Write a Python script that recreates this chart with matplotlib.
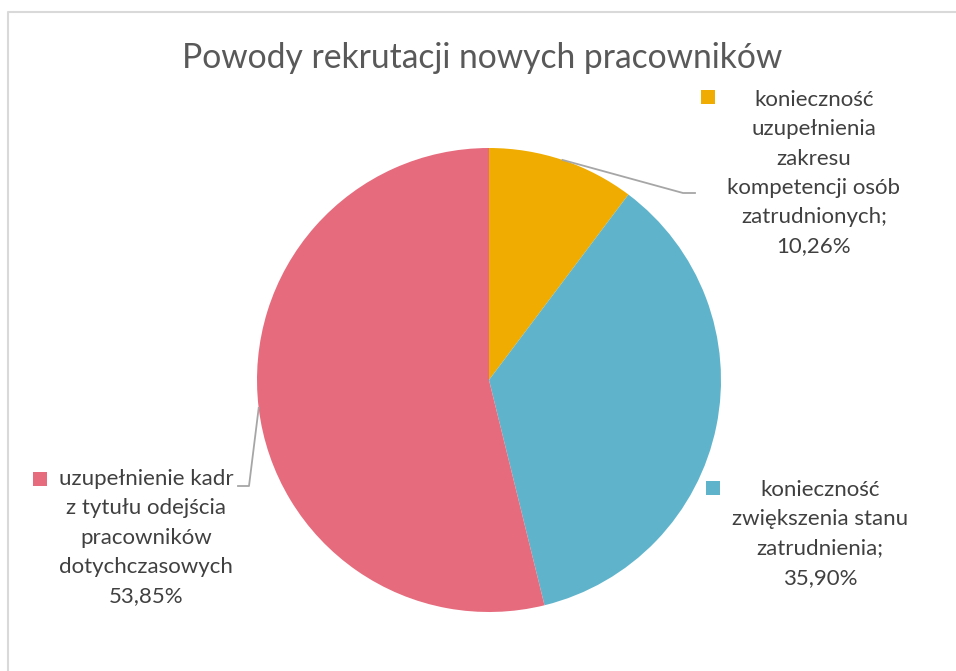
import numpy as np
import matplotlib.pyplot as plt

title = "Powody rekrutacji nowych pracowników"
labels = [
    "konieczność\nuzupełnienia\nzakresu\nkompetencji osób\nzatrudnionych;\n10,26%",
    "konieczność\nzwiększenia stanu\nzatrudnienia;\n35,90%",
    "uzupełnienie kadr\nz tytułu odejścia\npracowników\ndotychczasowych\n53,85%",
]
shares = [10.26, 35.90, 53.85]
colors = ["#F0AC00", "#5FB4CC", "#E66B7D"]

W, H = 956, 671
fig = plt.figure(figsize=(W / 100, H / 100), dpi=100)
ax = fig.add_axes([0, 0, 1, 1])

cx, cy, r = 489, H - 380, 232
ax.pie(shares, colors=colors, startangle=90, counterclock=False,
       center=(cx, cy), radius=r, frame=True,
       wedgeprops=dict(linewidth=0))
ax.set_xlim(0, W)
ax.set_ylim(0, H)
ax.set_aspect("equal")
ax.axis("off")

# chart frame (cut at right and bottom edges)
ax.plot([8.5, 8.5, W + 5], [-5, H - 11.5, H - 11.5], color="#D9D9D9", lw=1.5,
        clip_on=False)

ax.text(482, H - 58, title, ha="center", va="center", fontsize=24.2,
        family="Lato", color="#595959")

# mid-angle of each slice, for the leader lines
frac = np.array(shares) / np.sum(shares)
starts = 90 - 360 * np.concatenate([[0], np.cumsum(frac)[:-1]])
mids = np.radians(starts - 360 * frac / 2)

def rim(i):
    return cx + r * np.cos(mids[i]), cy + r * np.sin(mids[i])

txt = dict(ha="center", va="top", fontsize=16, family="Lato",
           color="#404040", linespacing=1.58)
lead = dict(color="#A6A6A6", lw=1.3)

# label positions (text center x, top y) and key squares
label_pos = [(814, 90), (820, 480), (146, 469)]
square_pos = [(701, 90), (706, 481), (33, 472)]
for i, lab in enumerate(labels):
    x, y = label_pos[i]
    ax.text(x, H - y, lab, **txt)
    sx, sy = square_pos[i]
    ax.add_patch(plt.Rectangle((sx, H - sy - 14), 14, 14, color=colors[i], lw=0))

x0, y0 = rim(0)
ax.plot([x0, 683, 695], [y0, H - 193, H - 193], **lead)
x2, y2 = rim(2)
ax.plot([x2, 249, 238], [y2, H - 486, H - 486], **lead)

fig.savefig("out.png", dpi=100)
